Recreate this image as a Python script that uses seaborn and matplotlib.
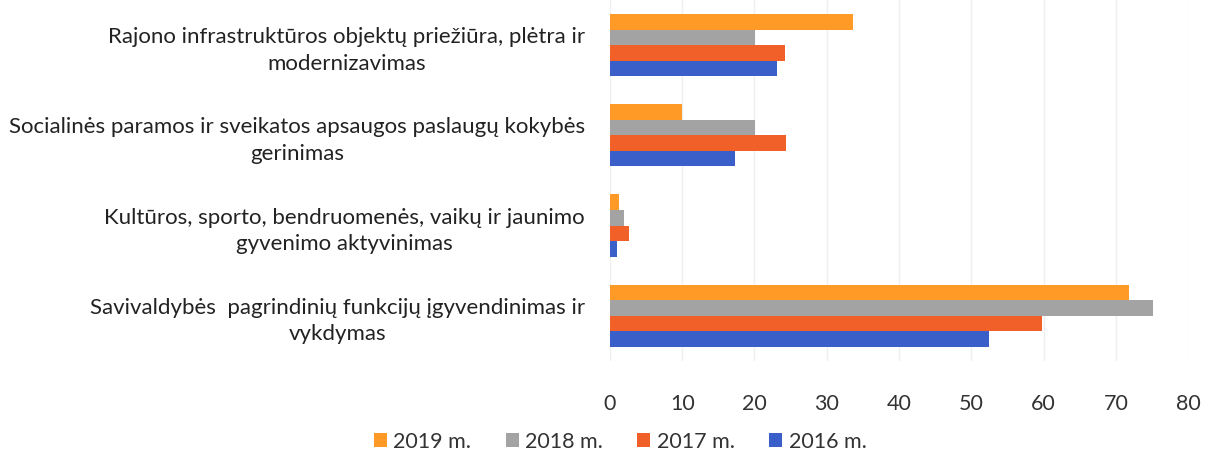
import matplotlib
matplotlib.use("Agg")
import matplotlib.pyplot as plt
import seaborn as sns
import pandas as pd

# Data
categories = [
    "Rajono infrastruktūros objektų priežiūra, plėtra ir\nmodernizavimas",
    "Socialinės paramos ir sveikatos apsaugos paslaugų kokybės\ngerinimas",
    "Kultūros, sporto, bendruomenės, vaikų ir jaunimo\ngyvenimo aktyvinimas",
    "Savivaldybės  pagrindinių funkcijų įgyvendinimas ir\nvykdymas",
]
years = ["2019 m.", "2018 m.", "2017 m.", "2016 m."]
values_2019 = [33.6, 10.0, 1.2, 71.8]
values_2018 = [20.1, 20.1, 1.9, 75.2]
values_2017 = [24.2, 24.3, 2.6, 59.8]
values_2016 = [23.1, 17.3, 1.0, 52.5]
colors = ["#FF9A26", "#A3A3A3", "#F2602A", "#3A5FC8"]

rows = []
for year, vals in zip(years, [values_2019, values_2018, values_2017, values_2016]):
    for cat, v in zip(categories, vals):
        rows.append({"category": cat, "year": year, "value": v})
df = pd.DataFrame(rows)

sns.set_style("white")
plt.rcParams["font.family"] = ["Lato", "DejaVu Sans"]

fig = plt.figure(figsize=(12.16, 4.54), dpi=100)
ax = fig.add_axes([0.5016, 0.205, 0.4755, 0.795])

sns.barplot(data=df, y="category", x="value", hue="year", hue_order=years,
            order=categories, palette=colors, orient="h", width=0.69,
            saturation=1, linewidth=0, ax=ax, legend=True)

ax.set_xlim(0, 80)
ax.set_xticks(range(0, 81, 10))
ax.set_xlabel("")
ax.set_ylabel("")
ax.grid(axis="x", color="#EFEFEF", linewidth=1)
ax.set_axisbelow(True)
for s in ax.spines.values():
    s.set_visible(False)
ax.tick_params(axis="x", labelsize=15.5, colors="#333333", length=0, pad=24)
ax.tick_params(axis="y", labelsize=16, colors="#222222", length=0, pad=18)
for lbl in ax.get_yticklabels():
    lbl.set_multialignment("center")
    lbl.set_linespacing(1.4)

handles, labels = ax.get_legend_handles_labels()
ax.get_legend().remove()
fig.legend(handles, labels, loc="center", bbox_to_anchor=(0.51, 0.027), ncol=4,
           frameon=False, fontsize=15.5, handlelength=0.6, handleheight=0.6,
           handletextpad=0.3, columnspacing=1.6, labelcolor="#333333")

fig.savefig("out.png", dpi=100)
